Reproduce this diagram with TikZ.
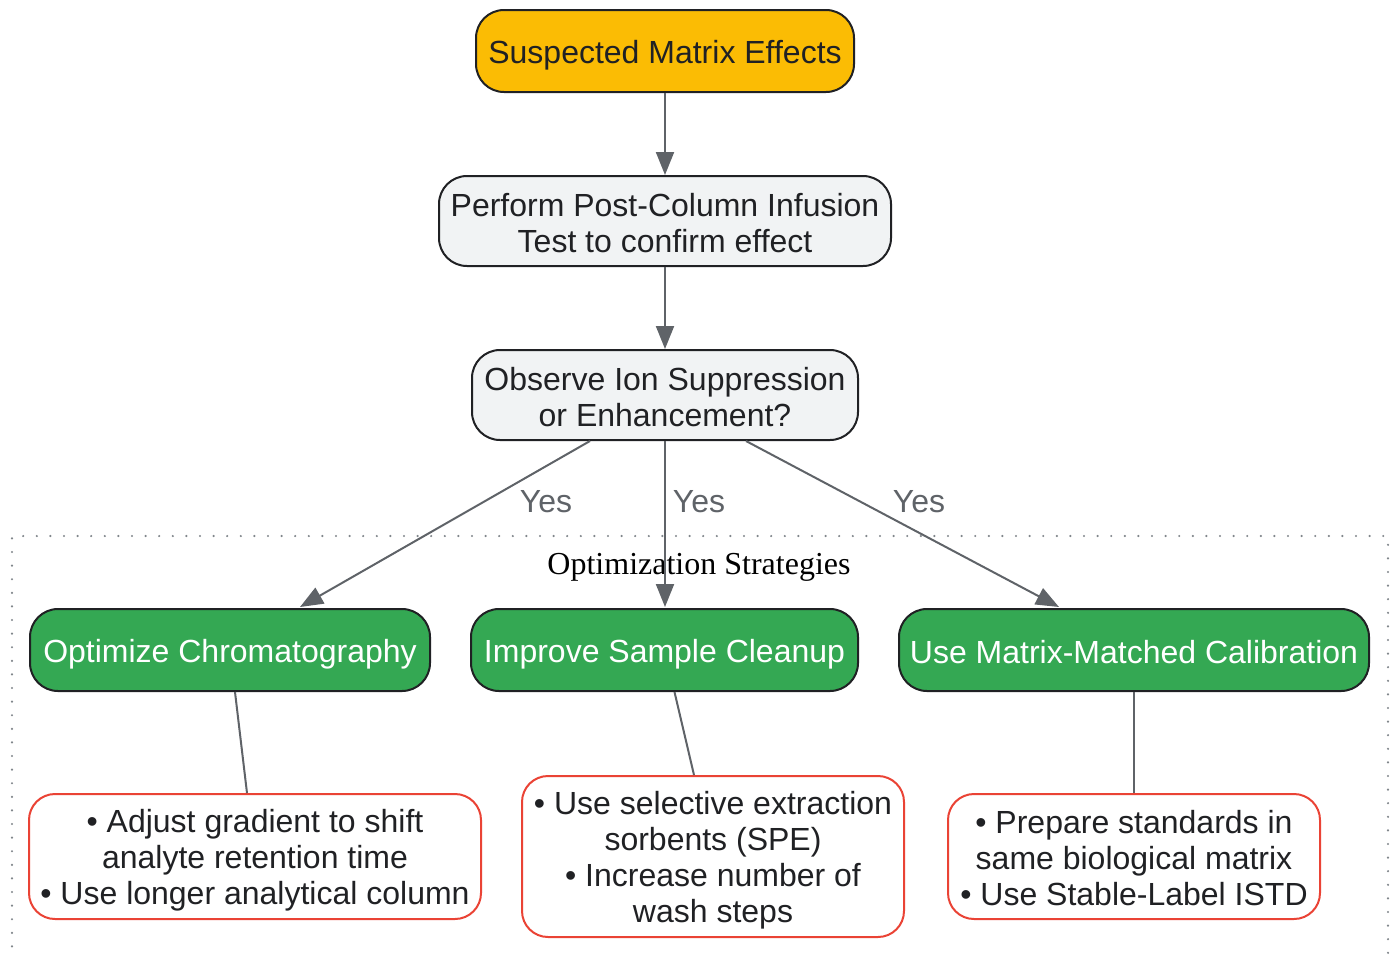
\documentclass[tikz,border=0pt]{standalone}
\usepackage{fontspec}
\setmainfont{Liberation Sans}
\newfontfamily\serifface{Liberation Serif}
\usetikzlibrary{arrows.meta}
\definecolor{ink}{HTML}{202124}
\definecolor{edgegray}{HTML}{5F6368}
\definecolor{startfill}{HTML}{FBBC04}
\definecolor{lightfill}{HTML}{F1F3F4}
\definecolor{stratgreen}{HTML}{34A853}
\definecolor{detailred}{HTML}{EA4335}
\definecolor{dotgray}{HTML}{80868B}
\newcommand\ms{\rule[-4.9pt]{0pt}{36pt}}
\tikzset{
  base/.style={rounded corners=28pt, line width=2pt, inner sep=0pt, align=center,
    font=\fontsize{32}{36}\selectfont, text=ink},
  startbox/.style={base, draw=ink, fill=startfill},
  stepbox/.style={base, draw=ink, fill=lightfill},
  stratbox/.style={base, draw=ink, fill=stratgreen, text=white},
  detailbox/.style={base, rounded corners=26pt, draw=detailred, fill=white},
  flow/.style={draw=edgegray, line width=2pt, -{Triangle[length=23pt,width=18pt]}},
  link/.style={draw=edgegray, line width=2pt},
  yeslabel/.style={text=edgegray, font=\fontsize{32}{36}\selectfont, inner sep=0pt},
  cluster/.style={draw=dotgray, line width=2.4pt, dash pattern=on 0pt off 13.6pt, line cap=round},
}
\begin{document}
\lineskiplimit=-100pt\relax
\begin{tikzpicture}[x=1pt,y=-1pt]
\useasboundingbox (0,0) rectangle (1397,954);
% cluster
\draw[cluster] (12,960) -- (12,536) -- (1388,536) -- (1388,960);
\node[font=\serifface\fontsize{32}{36}\selectfont, text=black, inner sep=0pt] (clusterlabel) at (699,567) {Optimization Strategies};
% nodes
\node[startbox, minimum width=378pt, minimum height=82pt] (start) at (665,51) {\ms Suspected Matrix Effects};
\node[stepbox, minimum width=452pt, minimum height=90pt] (perform) at (665,221) {\ms Perform Post-Column Infusion\\\ms Test to confirm effect};
\node[stepbox, minimum width=386pt, minimum height=90pt] (observe) at (665,395) {\ms Observe Ion Suppression\\\ms or Enhancement?};
\node[stratbox, minimum width=400pt, minimum height=82pt] (opt) at (230,650) {\ms Optimize Chromatography};
\node[stratbox, minimum width=387pt, minimum height=82pt] (imp) at (664.5,650) {\ms Improve Sample Cleanup};
\node[stratbox, minimum width=470pt, minimum height=82pt] (mat) at (1134,650) {\ms Use Matrix-Matched Calibration};
\node[detailbox, minimum width=452pt, minimum height=125pt] (d1) at (255,856.5) {\ms\textbullet\ Adjust gradient to shift\\\ms analyte retention time\\\ms\textbullet\ Use longer analytical column};
\node[detailbox, minimum width=382pt, minimum height=161pt] (d2) at (713,856.5) {\ms\textbullet\ Use selective extraction\\\ms sorbents (SPE)\\\ms\textbullet\ Increase number of\\\ms wash steps};
\node[detailbox, minimum width=372pt, minimum height=125pt] (d3) at (1134,856.5) {\ms\textbullet\ Prepare standards in\\\ms same biological matrix\\\ms\textbullet\ Use Stable-Label ISTD};
% edges
\draw[flow] (start.south) -- (perform.north);
\draw[flow] (perform.south) -- (observe.north);
\draw[flow] ([xshift=-75pt]observe.south) -- ([xshift=70pt,yshift=1pt]opt.north) node[yeslabel] at (546,502) {Yes};
\draw[flow] ([xshift=0pt]observe.south) -- ([xshift=0.5pt,yshift=1pt]imp.north) node[yeslabel] at (699,502) {Yes};
\draw[flow] ([xshift=81pt]observe.south) -- ([xshift=-75pt,yshift=1pt]mat.north) node[yeslabel] at (919,502) {Yes};
\draw[link] ([xshift=5pt]opt.south) -- ([xshift=-8pt]d1.north);
\draw[link] ([xshift=10pt]imp.south) -- ([xshift=-19pt]d2.north);
\draw[link] (mat.south) -- (d3.north);
\end{tikzpicture}
\end{document}
